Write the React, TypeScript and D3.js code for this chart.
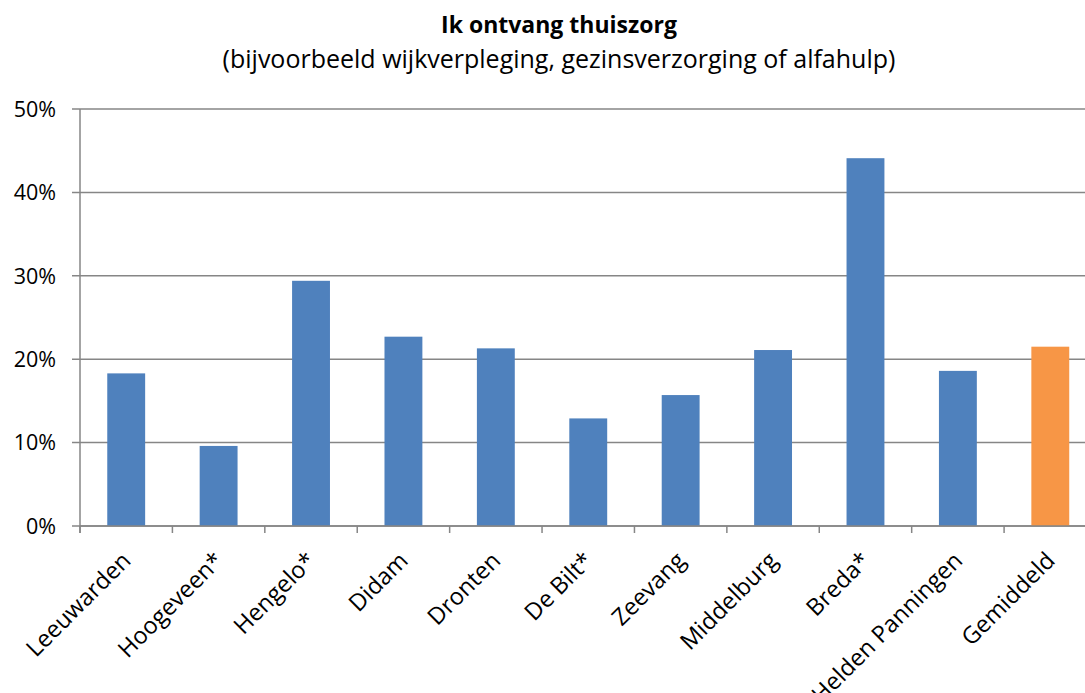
import React from "react";
import * as d3 from "d3";

const categories = [
  "Leeuwarden",
  "Hoogeveen*",
  "Hengelo*",
  "Didam",
  "Dronten",
  "De Bilt*",
  "Zeevang",
  "Middelburg",
  "Breda*",
  "Helden Panningen",
  "Gemiddeld",
];
const values = [18.3, 9.6, 29.4, 22.7, 21.3, 12.9, 15.7, 21.1, 44.1, 18.6, 21.5];
const yTicks = [0, 10, 20, 30, 40, 50];
const titleText = "Ik ontvang thuiszorg";
const subtitleText = "(bijvoorbeeld wijkverpleging, gezinsverzorging of alfahulp)";

const W = 1085;
const H = 693;
const FONT = "'Open Sans', sans-serif";

export default function App() {
  const left = 80;
  const right = 1096.5;
  const top = 109;
  const bottom = 526;

  const x = d3.scaleBand<string>().domain(categories).range([left, right]).padding(0);
  const y = d3.scaleLinear().domain([0, 50]).range([bottom, top]);
  const barW = x.bandwidth() * 0.41;
  const grid = "#868686";

  return (
    <svg
      width={W}
      height={H}
      style={{ position: "absolute", left: 0, top: 0, background: "#fff" }}
      fontFamily={FONT}
    >
      <text x={559} y={33} textAnchor="middle" fontSize={23} fontWeight="bold" fill="#000">
        {titleText}
      </text>
      <text x={559} y={68} textAnchor="middle" fontSize={25} fill="#000">
        {subtitleText}
      </text>

      {yTicks.map((t) => (
        <g key={t}>
          <line x1={72} x2={W} y1={y(t)} y2={y(t)} stroke={grid} strokeWidth={1.5} />
          <text x={56} y={y(t)} dy="0.36em" textAnchor="end" fontSize={21.5} fill="#000">
            {t}%
          </text>
        </g>
      ))}
      <line x1={left} x2={left} y1={top} y2={bottom + 7} stroke={grid} strokeWidth={1.5} />
      {categories.map((c, i) => (
        <line
          key={"t" + c}
          x1={left + i * x.step()}
          x2={left + i * x.step()}
          y1={bottom}
          y2={bottom + 7}
          stroke={grid}
          strokeWidth={1.5}
        />
      ))}

      {categories.map((c, i) => {
        const cx = (x(c) as number) + x.bandwidth() / 2;
        return (
          <rect
            key={"b" + c}
            x={cx - barW / 2}
            y={y(values[i])}
            width={barW}
            height={bottom - y(values[i])}
            fill={i === categories.length - 1 ? "#F79646" : "#4F81BD"}
          />
        );
      })}
      <line x1={left} x2={W} y1={bottom} y2={bottom} stroke={grid} strokeWidth={1.5} />

      {categories.map((c) => {
        const cx = (x(c) as number) + x.bandwidth() / 2;
        return (
          <text
            key={"l" + c}
            transform={`translate(${cx + 6},${bottom + 36}) rotate(-45)`}
            textAnchor="end"
            fontSize={23.5}
            fill="#000"
          >
            {c}
          </text>
        );
      })}
    </svg>
  );
}
